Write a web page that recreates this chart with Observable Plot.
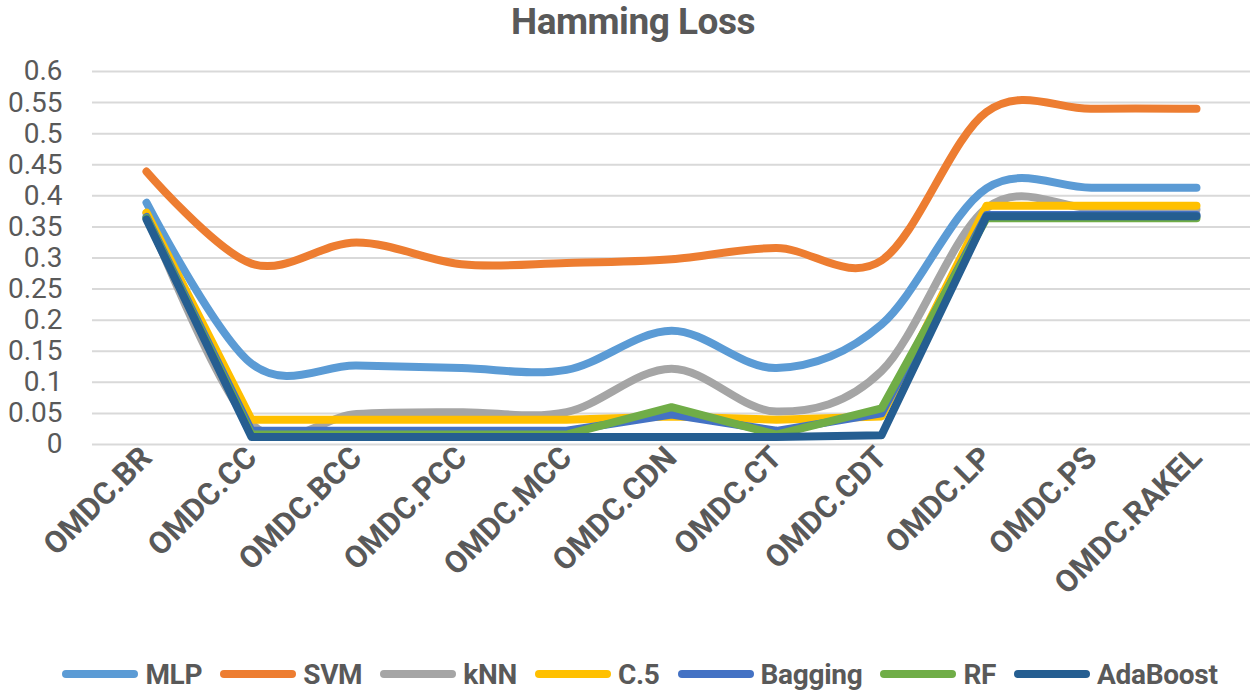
<!DOCTYPE html>
<html>
<head>
<meta charset="utf-8">
<script src="https://cdn.jsdelivr.net/npm/d3@7"></script>
<script src="https://cdn.jsdelivr.net/npm/@observablehq/plot@0.6"></script>
<style>
  html, body { margin: 0; padding: 0; background: #fff; }
  body { width: 1250px; height: 696px; overflow: hidden; font-family: "Roboto", sans-serif; color: #595959; }
  #title { height: 45px; line-height: 44px; text-align: center; font-size: 37px; font-weight: bold; padding-left: 16px; letter-spacing: -0.5px; }
  #legend { display: flex; justify-content: center; align-items: center; height: 50px; margin-top: 24px; padding-left: 30px; font-size: 28px; font-weight: bold; letter-spacing: -0.3px; }
  .item { display: flex; align-items: center; margin: 0 9px; }
  .sw { display: inline-block; width: 76px; height: 8px; border-radius: 4px; margin-right: 7px; }
  svg text { fill: #595959; }
</style>
</head>
<body>
<div id="title">Hamming Loss</div>
<div id="chart"></div>
<div id="legend"></div>
<script>
const categories = ["OMDC.BR","OMDC.CC","OMDC.BCC","OMDC.PCC","OMDC.MCC","OMDC.CDN","OMDC.CT","OMDC.CDT","OMDC.LP","OMDC.PS","OMDC.RAKEL"];
const seriesNames = ["MLP","SVM","kNN","C.5","Bagging","RF","AdaBoost"];
const seriesColors = ["#5B9BD5","#ED7D31","#A5A5A5","#FFC000","#4472C4","#70AD47","#255E91"];
const smoothSeries = ["MLP","SVM","kNN"];
const yTicks = [0, 0.05, 0.1, 0.15, 0.2, 0.25, 0.3, 0.35, 0.4, 0.45, 0.5, 0.55, 0.6];

const MLP      = [0.389, 0.130, 0.127, 0.123, 0.120, 0.183, 0.123, 0.193, 0.412, 0.413, 0.413];
const SVM      = [0.439, 0.291, 0.325, 0.290, 0.292, 0.298, 0.316, 0.296, 0.535, 0.540, 0.540];
const kNN      = [0.372, 0.033, 0.049, 0.052, 0.052, 0.122, 0.053, 0.118, 0.380, 0.380, 0.378];
const C5       = [0.373, 0.040, 0.040, 0.040, 0.040, 0.045, 0.040, 0.045, 0.384, 0.384, 0.384];
const Bagging  = [0.366, 0.022, 0.022, 0.022, 0.022, 0.048, 0.022, 0.050, 0.369, 0.369, 0.369];
const RF       = [0.364, 0.016, 0.016, 0.016, 0.016, 0.060, 0.016, 0.058, 0.364, 0.364, 0.364];
const AdaBoost = [0.362, 0.012, 0.012, 0.012, 0.012, 0.012, 0.012, 0.015, 0.367, 0.367, 0.367];

const seriesValues = [MLP, SVM, kNN, C5, Bagging, RF, AdaBoost];

const marks = [
  Plot.ruleY(yTicks, {stroke: "#d9d9d9", strokeWidth: 2}),
  Plot.axisY({ticks: yTicks, tickSize: 0, tickPadding: 30, fontSize: 28, tickFormat: d => d3.format("~g")(d), label: null}),
  Plot.axisX({tickRotate: -45, tickSize: 0, tickPadding: 8, fontSize: 31, fontWeight: "bold", label: null})
];

seriesNames.forEach((name, i) => {
  const rows = categories.map((c, j) => ({cat: c, value: seriesValues[i][j], series: name}));
  marks.push(Plot.line(rows, {
    x: "cat", y: "value", stroke: "series",
    strokeWidth: 8, strokeLinecap: "round", strokeLinejoin: "round",
    curve: smoothSeries.includes(name) ? "cardinal" : "linear"
  }));
});

const chart = Plot.plot({
  width: 1250,
  height: 580,
  marginTop: 26,
  marginBottom: 181,
  marginLeft: 92,
  marginRight: 0,
  style: {fontFamily: '"Roboto", sans-serif', color: "#595959", background: "#fff"},
  x: {type: "point", domain: categories, padding: 0.5},
  y: {domain: [0, 0.6]},
  color: {domain: seriesNames, range: seriesColors},
  marks
});
document.getElementById("chart").appendChild(chart);

const legend = document.getElementById("legend");
seriesNames.forEach((name, i) => {
  const item = document.createElement("div");
  item.className = "item";
  const sw = document.createElement("span");
  sw.className = "sw";
  sw.style.background = seriesColors[i];
  const label = document.createElement("span");
  label.textContent = name;
  item.appendChild(sw);
  item.appendChild(label);
  legend.appendChild(item);
});
</script>
</body>
</html>
